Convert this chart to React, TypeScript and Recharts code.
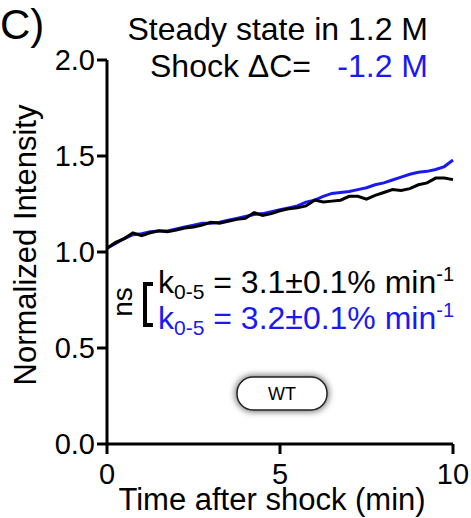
import { LineChart, Line, XAxis, YAxis } from "recharts";

const timeMin = [
  0, 0.25, 0.5, 0.75, 1, 1.25, 1.5, 1.75, 2, 2.25, 2.5, 2.75, 3, 3.25, 3.5, 3.75, 4, 4.25, 4.5, 4.75, 5,
  5.25, 5.5, 5.75, 6, 6.25, 6.5, 6.75, 7, 7.25, 7.5, 7.75, 8, 8.25, 8.5, 8.75, 9, 9.25, 9.5, 9.75, 10,
];

const steadyBlack = [
  1.02, 1.05, 1.07, 1.1, 1.085, 1.1, 1.11, 1.105, 1.115, 1.125, 1.13, 1.14, 1.155, 1.15, 1.16, 1.17, 1.175,
  1.205, 1.19, 1.2, 1.215, 1.225, 1.23, 1.24, 1.27, 1.26, 1.265, 1.27, 1.29, 1.29, 1.275, 1.295, 1.31, 1.325,
  1.32, 1.33, 1.35, 1.36, 1.385, 1.385, 1.377,
];

const shockBlue = [
  1.02, 1.045, 1.07, 1.09, 1.095, 1.105, 1.11, 1.11, 1.12, 1.13, 1.14, 1.15, 1.15, 1.155, 1.165, 1.175, 1.185,
  1.195, 1.2, 1.21, 1.22, 1.23, 1.24, 1.26, 1.27, 1.29, 1.305, 1.31, 1.315, 1.325, 1.335, 1.35, 1.36, 1.375,
  1.39, 1.405, 1.415, 1.42, 1.43, 1.445, 1.479,
];

const yTicks = [0, 0.5, 1, 1.5, 2];
const xTicks = [0, 5, 10];

const data = timeMin.map((t, i) => ({ t, black: steadyBlack[i], blue: shockBlue[i] }));

const FONT = "'Liberation Sans', Arial, Helvetica, sans-serif";
const BLUE = "#1a1af0";

export default function App() {
  return (
    <div style={{ position: "absolute", left: 0, top: 0, width: 471, height: 518, background: "#fff" }}>
      <LineChart
        width={471}
        height={518}
        data={data}
        margin={{ top: 60, right: 18, left: 0, bottom: 0 }}
        style={{ fontFamily: FONT }}
      >
        <XAxis
          dataKey="t"
          type="number"
          domain={[0, 10]}
          ticks={xTicks}
          height={74}
          tickSize={10}
          tickMargin={9}
          axisLine={{ stroke: "#000", strokeWidth: 3 }}
          tickLine={{ stroke: "#000", strokeWidth: 3 }}
          tick={{ fill: "#000", fontSize: 29 }}
        />
        <YAxis
          type="number"
          domain={[0, 2]}
          ticks={yTicks}
          width={107}
          tickSize={10}
          tickMargin={2}
          tickFormatter={(v: number) => v.toFixed(1)}
          axisLine={{ stroke: "#000", strokeWidth: 3 }}
          tickLine={{ stroke: "#000", strokeWidth: 3 }}
          tick={{ fill: "#000", fontSize: 29 }}
        />
        <Line dataKey="blue" stroke={BLUE} strokeWidth={3} dot={false} isAnimationActive={false} />
        <Line dataKey="black" stroke="#000" strokeWidth={3} dot={false} isAnimationActive={false} />
      </LineChart>

      <svg
        width={471}
        height={518}
        style={{ position: "absolute", left: 0, top: 0, pointerEvents: "none", fontFamily: FONT }}
      >
        <defs>
          <filter id="pillShadow" x="-30%" y="-60%" width="160%" height="220%">
            <feGaussianBlur stdDeviation="3" />
          </filter>
        </defs>

        <text x={0} y={39} fontSize={42} fill="#000">C)</text>
        <text x={428} y={40} fontSize={32} fill="#000" textAnchor="end">Steady state in 1.2 M</text>
        <text x={150} y={77} fontSize={32} fill="#000">Shock ΔC=</text>
        <text x={428} y={77} fontSize={32} fill={BLUE} textAnchor="end">-1.2 M</text>

        <text x={36} y={245} fontSize={31} fill="#000" textAnchor="middle" transform="rotate(-90 36 245)">
          Normalized Intensity
        </text>
        <text x={272} y={510} fontSize={31} fill="#000" textAnchor="middle">Time after shock (min)</text>

        <text x={132} y={302} fontSize={28} fill="#000" textAnchor="middle" transform="rotate(-90 132 302)">ns</text>
        <path d="M153,284 H145 V325 H153" fill="none" stroke="#000" strokeWidth={4} />

        <text x={158} y={293} fontSize={32} fill="#000">
          k<tspan fontSize={21} dy={6}>0-5</tspan>
          <tspan dy={-6}> = 3.1±0.1% min</tspan>
          <tspan fontSize={20} dy={-12}>-1</tspan>
        </text>
        <text x={158} y={329} fontSize={32} fill={BLUE}>
          k<tspan fontSize={21} dy={6}>0-5</tspan>
          <tspan dy={-6}> = 3.2±0.1% min</tspan>
          <tspan fontSize={20} dy={-12}>-1</tspan>
        </text>

        <rect x={235} y={375} width={94} height={37} rx={18} fill="#777" filter="url(#pillShadow)" />
        <rect x={237} y={377} width={90} height={33} rx={16} fill="#fff" stroke="#222" strokeWidth={1.5} />
        <text x={282} y={400} fontSize={18} fill="#000" textAnchor="middle">WT</text>
      </svg>
    </div>
  );
}
